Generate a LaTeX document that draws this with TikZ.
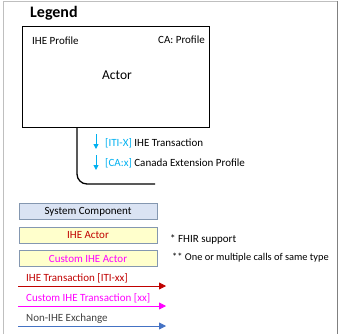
\documentclass[tikz,border=0pt]{standalone}
\usepackage{fontspec}
\setmainfont{Carlito}
\usetikzlibrary{arrows.meta}
\definecolor{ihered}{HTML}{C00000}
\definecolor{ihemag}{HTML}{FF00FF}
\definecolor{ihecyan}{HTML}{00B0F0}
\definecolor{nonblue}{HTML}{4472C4}
\definecolor{nontext}{HTML}{404040}
\definecolor{compfill}{HTML}{DAE3F3}
\definecolor{actfill}{HTML}{FFFFCC}
\definecolor{boxline}{HTML}{8497B0}
\tikzset{
    legbox/.style={draw=boxline, line width=0.8pt, minimum width=138pt, minimum height=16pt, inner sep=0pt, font=\fontsize{11}{12}\selectfont},
    txt/.style={inner sep=0pt, anchor=base west, font=\fontsize{11}{12}\selectfont},
    legarrow/.style={line width=0.8pt, -{Triangle[length=7pt,width=7pt]}},
    smalldown/.style={ihecyan, line width=1pt, -{Triangle[length=5pt,width=5pt]}}
}
\begin{document}
\begin{tikzpicture}[x=1pt, y=-1pt]
    \useasboundingbox (0,0) rectangle (339,334);
    % frame
    \draw[gray!50, line width=0.8pt] (3,334) -- (3,1.5) -- (337.5,1.5);
    \draw[gray, line width=1pt] (337.5,1.5) -- (337.5,334);
    \node[txt, font=\fontsize{16}{18}\selectfont\bfseries] (legend) at (30,18) {Legend};

    % Actor box
    \draw[line width=0.8pt] (22,26) rectangle (209,127);
    \node[txt] (profile) at (32,45) {IHE Profile};
    \node[txt, anchor=base east] (caprofile) at (205,44) {CA: Profile};
    \node[txt, anchor=base, font=\fontsize{13.5}{15}\selectfont] (actor) at (117,80) {Actor};
    \coordinate (stem) at (77,127);
    \coordinate (stemend) at (155,184);
    \draw[line width=1.3pt, rounded corners=10pt] (stem) |- (stemend);

    % transactions
    \coordinate (a1) at (96,134);
    \coordinate (a2) at (96,155);
    \draw[smalldown] (a1) -- ++(0,15);
    \draw[smalldown] (a2) -- ++(0,15);
    \node[txt] (iti) at (105,146) {\textcolor{ihecyan}{[ITI-X]} IHE Transaction};
    \node[txt] (caext) at (105,166) {\textcolor{ihecyan}{[CA:x]} Canada Extension Profile};

    % boxes
    \node[legbox, fill=compfill] (comp) at (88,211.5) {System Component};
    \node[legbox, fill=actfill, text=ihered] (iheactor) at (88,235.5) {IHE Actor};
    \node[legbox, fill=actfill, text=ihemag] (custactor) at (88,258.5) {Custom IHE Actor};
    \node[txt] (fhir) at (170,242) {* FHIR support};
    \node[txt, font=\fontsize{10.4}{12}\selectfont] (multi) at (172,260) {** One or multiple calls of same type};

    % arrows
    \foreach \n/\y/\col/\tcol/\lab in {ihe/286/ihered/ihered/{IHE Transaction [ITI-xx]},
                                 cust/306/ihemag/ihemag/{Custom IHE Transaction [xx]},
                                 non/326/nonblue/nontext/{Non-IHE Exchange}}{
        \coordinate (\n s) at (18,\y);
        \coordinate (\n e) at (166,\y);
        \draw[legarrow, \col] (\n s) -- (\n e);
        \node[txt, text=\tcol] (\n lab) at (26,\y-4.5) {\lab};
    }
\end{tikzpicture}
\end{document}
